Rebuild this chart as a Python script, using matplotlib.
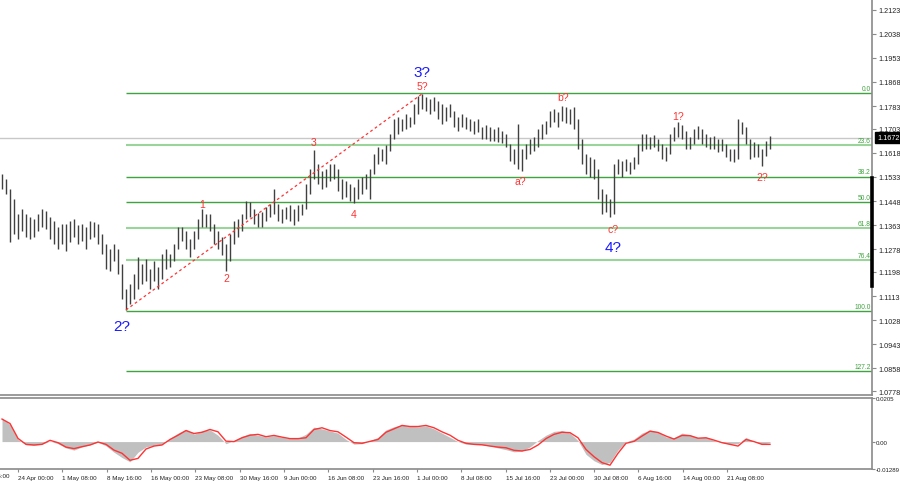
import numpy as np
import matplotlib
matplotlib.use("Agg")
import matplotlib.pyplot as plt
import matplotlib.transforms as mtransforms

plt.rcParams['font.family'] = ['Liberation Sans', 'DejaVu Sans']

# ---------------- data ----------------
highs = [
    1.1543, 1.1526, 1.1490, 1.1455, 1.1402, 1.1420, 1.1402, 1.1392, 1.1385, 1.1402,
    1.1420, 1.1413, 1.1392, 1.1378, 1.1357, 1.1367, 1.1367, 1.1378, 1.1385, 1.1364,
    1.1367, 1.1357, 1.1378, 1.1374, 1.1367, 1.1332, 1.1296, 1.1279, 1.1296, 1.1279,
    1.1226, 1.1138, 1.1155, 1.1191, 1.1251, 1.1226, 1.1244, 1.1208, 1.1237, 1.1215,
    1.1261, 1.1279, 1.1261, 1.1296, 1.1357, 1.1357, 1.1342, 1.1314, 1.1342, 1.1385,
    1.1420, 1.1402, 1.1402, 1.1367, 1.1342, 1.1321, 1.1296, 1.1332, 1.1378, 1.1385,
    1.1402, 1.1448, 1.1445, 1.1420, 1.1406, 1.1410, 1.1427, 1.1438, 1.1490, 1.1438,
    1.1420, 1.1427, 1.1434, 1.1420, 1.1434, 1.1438, 1.1508, 1.1561, 1.1628, 1.1579,
    1.1554, 1.1561, 1.1579, 1.1579, 1.1561, 1.1526, 1.1519, 1.1508, 1.1498, 1.1526,
    1.1533, 1.1543, 1.1561, 1.1614, 1.1639, 1.1632, 1.1646, 1.1685, 1.1737, 1.1745,
    1.1737, 1.1755, 1.1745, 1.1790, 1.1819, 1.1826, 1.1815, 1.1808, 1.1815, 1.1801,
    1.1790, 1.1780, 1.1790, 1.1766, 1.1745, 1.1755, 1.1745, 1.1737, 1.1730, 1.1737,
    1.1709, 1.1716, 1.1709, 1.1702, 1.1709, 1.1695, 1.1685, 1.1649, 1.1632, 1.1720,
    1.1632, 1.1649, 1.1667, 1.1674, 1.1702, 1.1720, 1.1730, 1.1766, 1.1773, 1.1762,
    1.1783, 1.1780, 1.1773, 1.1780, 1.1737, 1.1667, 1.1614, 1.1603, 1.1596, 1.1561,
    1.1490, 1.1473, 1.1455, 1.1579, 1.1596, 1.1589, 1.1596, 1.1586, 1.1603, 1.1649,
    1.1685, 1.1685, 1.1674, 1.1681, 1.1667, 1.1649, 1.1639, 1.1685, 1.1709, 1.1727,
    1.1716, 1.1695, 1.1674, 1.1702, 1.1713, 1.1702, 1.1685, 1.1674, 1.1677, 1.1667,
    1.1667, 1.1649, 1.1632, 1.1632, 1.1737, 1.1727, 1.1709, 1.1667, 1.1656, 1.1649,
    1.1632, 1.1660, 1.1677]

lows = [
    1.1490, 1.1473, 1.1304, 1.1332, 1.1314, 1.1342, 1.1321, 1.1314, 1.1321, 1.1342,
    1.1357, 1.1349, 1.1314, 1.1296, 1.1279, 1.1296, 1.1272, 1.1304, 1.1321, 1.1296,
    1.1307, 1.1279, 1.1314, 1.1321, 1.1296, 1.1261, 1.1208, 1.1201, 1.1237, 1.1191,
    1.1102, 1.1064, 1.1085, 1.1102, 1.1138, 1.1155, 1.1166, 1.1138, 1.1166, 1.1138,
    1.1173, 1.1208, 1.1215, 1.1237, 1.1279, 1.1307, 1.1279, 1.1251, 1.1279, 1.1314,
    1.1357, 1.1357, 1.1342, 1.1296, 1.1279, 1.1258, 1.1201, 1.1237, 1.1296, 1.1321,
    1.1342, 1.1385, 1.1392, 1.1367, 1.1357, 1.1357, 1.1378, 1.1392, 1.1402, 1.1378,
    1.1371, 1.1385, 1.1378, 1.1364, 1.1378, 1.1399, 1.1420, 1.1473, 1.1526, 1.1508,
    1.1490, 1.1498, 1.1519, 1.1526, 1.1483, 1.1455, 1.1462, 1.1448, 1.1441, 1.1455,
    1.1473, 1.1490, 1.1455, 1.1543, 1.1579, 1.1589, 1.1579, 1.1625, 1.1667, 1.1685,
    1.1695, 1.1702, 1.1709, 1.1720, 1.1755, 1.1773, 1.1766, 1.1755, 1.1766, 1.1737,
    1.1720, 1.1730, 1.1745, 1.1709, 1.1695, 1.1709, 1.1702, 1.1695, 1.1685, 1.1692,
    1.1667, 1.1667, 1.1660, 1.1660, 1.1656, 1.1653, 1.1639, 1.1589, 1.1579, 1.1561,
    1.1554, 1.1596, 1.1614, 1.1625, 1.1639, 1.1667, 1.1685, 1.1709, 1.1727, 1.1709,
    1.1730, 1.1723, 1.1720, 1.1702, 1.1632, 1.1579, 1.1543, 1.1533, 1.1526, 1.1455,
    1.1402, 1.1410, 1.1392, 1.1402, 1.1543, 1.1533, 1.1554, 1.1543, 1.1561, 1.1579,
    1.1625, 1.1632, 1.1632, 1.1639, 1.1625, 1.1596, 1.1589, 1.1614, 1.1660, 1.1674,
    1.1667, 1.1632, 1.1632, 1.1649, 1.1667, 1.1649, 1.1639, 1.1632, 1.1632, 1.1621,
    1.1625, 1.1603, 1.1589, 1.1586, 1.1596, 1.1685, 1.1649, 1.1596, 1.1603, 1.1603,
    1.1572, 1.1607, 1.1632]

# oscillator (one value every second bar)
osc_hist = [
    0.0110, 0.0080, 0.0010, -0.0015, -0.0018, -0.0012, 0.0002, -0.0010, -0.0030, -0.0040,
    -0.0025, -0.0015, -0.0003, -0.0020, -0.0050, -0.0075, -0.0095, -0.0050, -0.0025, -0.0018,
    -0.0012, 0.0015, 0.0040, 0.0058, 0.0035, 0.0050, 0.0055, 0.0030, -0.0010, 0.0005,
    0.0025, 0.0038, 0.0030, 0.0022, 0.0028, 0.0020, 0.0014, 0.0016, 0.0035, 0.0068,
    0.0060, 0.0050, 0.0040, 0.0010, -0.0012, -0.0010, 0.0005, 0.0020, 0.0055, 0.0070,
    0.0078, 0.0072, 0.0070, 0.0074, 0.0060, 0.0040, 0.0020, 0.0000, -0.0012, -0.0014,
    -0.0015, -0.0020, -0.0030, -0.0038, -0.0048, -0.0045, -0.0025, 0.0005, 0.0030, 0.0048,
    0.0052, 0.0040, 0.0005, -0.0060, -0.0090, -0.0108, -0.0098, -0.0040, -0.0002, 0.0012,
    0.0040, 0.0055, 0.0045, 0.0022, 0.0018, 0.0040, 0.0032, 0.0018, 0.0020, 0.0005,
    -0.0005, -0.0012, -0.0010, 0.0020, 0.0000, -0.0012, -0.0005]

osc_signal = [
    0.0106, 0.0085, 0.0015, -0.0013, -0.0016, -0.0013, 0.0006, -0.0005, -0.0026, -0.0033,
    -0.0024, -0.0016, -0.0002, -0.0013, -0.0040, -0.0055, -0.0088, -0.0079, -0.0035, -0.0021,
    -0.0016, 0.0010, 0.0030, 0.0052, 0.0038, 0.0044, 0.0057, 0.0046, 0.0002, 0.0000,
    0.0018, 0.0030, 0.0034, 0.0023, 0.0029, 0.0021, 0.0014, 0.0014, 0.0018, 0.0057,
    0.0065, 0.0052, 0.0046, 0.0021, -0.0005, -0.0008, 0.0001, 0.0010, 0.0044, 0.0060,
    0.0076, 0.0071, 0.0071, 0.0076, 0.0065, 0.0046, 0.0030, 0.0006, -0.0008, -0.0013,
    -0.0015, -0.0021, -0.0026, -0.0029, -0.0041, -0.0044, -0.0037, -0.0016, 0.0014, 0.0034,
    0.0044, 0.0042, 0.0018, -0.0037, -0.0071, -0.0099, -0.0111, -0.0055, -0.0008, 0.0001,
    0.0026, 0.0049, 0.0043, 0.0026, 0.0012, 0.0029, 0.0028, 0.0016, 0.0018, 0.0007,
    -0.0005, -0.0013, -0.0021, 0.0010, 0.0000, -0.0013, -0.0013]

current_price = 1.1672
fib_top = 1.1828
fib_bottom = 1.1059
fib_ratios = [0.0, 23.6, 38.2, 50.0, 61.8, 76.4, 100.0, 127.2]
fib_labels = ["0.0", "23.6", "38.2", "50.0", "61.8", "76.4", "100.0", "127.2"]

price_ticks = [1.2123, 1.2038, 1.1953, 1.1868, 1.1783, 1.1703, 1.1618, 1.1533, 1.1448,
               1.1363, 1.1278, 1.1198, 1.1113, 1.1028, 1.0943, 1.0858, 1.0778]
osc_ticks = [0.0205, 0.00, -0.01289]
osc_tick_labels = ["0.0205", "0.00", "-0.01289"]

date_labels = ["16 Apr 16:00", "24 Apr 00:00", "1 May 08:00", "8 May 16:00", "16 May 00:00",
               "23 May 08:00", "30 May 16:00", "9 Jun 00:00", "16 Jun 08:00", "23 Jun 16:00",
               "1 Jul 00:00", "8 Jul 08:00", "15 Jul 16:00", "23 Jul 00:00", "30 Jul 08:00",
               "6 Aug 16:00", "14 Aug 00:00", "21 Aug 08:00"]

# wave labels: text, bar index, anchor, colour, size, offset (pt)
wave_labels = [
    ("1", 50, "high", "red", 7.5, (0, 3.6)),
    ("2", 56, "low", "red", 7.5, (0, -5.0)),
    ("3", 78, "high", "red", 7.5, (0, 5.8)),
    ("4", 88, "low", "red", 7.5, (0, -7.9)),
    ("5?", 105, "high", "red", 7.5, (0, 5.8)),
    ("3?", 105, "high", "blue", 11, (0, 15.8)),
    ("2?", 31, "low", "blue", 11, (-2.9, -11.5)),
    ("a?", 130, "low", "red", 7.5, (-1.4, -7.2)),
    ("b?", 140, "high", "red", 7.5, (0.5, 6.5)),
    ("c?", 152, "low", "red", 7.5, (2.0, -8.6)),
    ("4?", 152, "low", "blue", 11, (2.0, -21.6)),
    ("1?", 169, "high", "red", 7.5, (0, 4.3)),
    ("2?", 190, "low", "red", 7.5, (0, -7.9)),
]

RED = "#ff3333"
BLUE = "#1a1aff"
GREEN_D = "#3fa33f"
GREEN_L = "#9ad49a"
AX_COL = "#8a8a8a"

# ---------------- figure ----------------
W, H = 900, 485
fig = plt.figure(figsize=(W / 100, H / 100), dpi=100)
fig.patch.set_facecolor("white")
ax = fig.add_axes([0, 89 / H, 872 / W, 396 / H])
ax2 = fig.add_axes([0, 15 / H, 872 / W, 71 / H])

n = len(highs)
xb = np.arange(n)
xlim = (-0.5, 217.5)

# price bars
ax.vlines(xb, lows, highs, color="#404040", lw=1.0, zorder=3)

# current price line
ax.axhline(current_price, color="#c8c8c8", lw=1.0, zorder=1)

# fib levels
rng = fib_top - fib_bottom
light = {"23.6", "61.8", "76.4"}
for r, lab in zip(fib_ratios, fib_labels):
    lvl = fib_top - r / 100.0 * rng
    col = GREEN_L if lab in light else GREEN_D
    lw = 1.5 if lab in light else 1.0
    ax.plot([31, xlim[1]], [lvl, lvl], color=col, lw=lw, zorder=2, solid_capstyle="butt")
    ax.text(xlim[1] - 0.3, lvl + 0.0004, lab, color=GREEN_D, fontsize=4.8,
            ha="right", va="bottom", zorder=4)

# trend line from wave 2? low to 5? high
ax.plot([31, 105], [lows[31], highs[105]], color=RED, lw=0.9,
        ls=(0, (2.2, 2.2)), zorder=4)

# wave labels
for txt, b, anchor, col, size, off in wave_labels:
    y = highs[b] if anchor == "high" else lows[b]
    ax.annotate(txt, (b, y), xytext=off, textcoords="offset points",
                ha="center", va="center", color=RED if col == "red" else BLUE,
                fontsize=size, zorder=5)
# clipped label at the left edge
ax.text(-2.6, 1.1625, "2?", color=BLUE, fontsize=11, ha="center", va="center",
        zorder=5, clip_on=True)

ax.set_xlim(*xlim)
ax.set_ylim(1.07639, 1.21607)
ax.yaxis.tick_right()
ax.set_yticks(price_ticks)
ax.set_yticklabels([f"{v:.4f}" for v in price_ticks])
ax.tick_params(axis="y", direction="out", length=3, width=0.8, colors=AX_COL,
               labelcolor="#222222", labelsize=5.2, pad=1.5)
ax.set_xticks([])
for s in ["left", "top"]:
    ax.spines[s].set_visible(False)
for s in ["right", "bottom"]:
    ax.spines[s].set_color(AX_COL)
    ax.spines[s].set_linewidth(1.2)
# dark scroll segment on price scale
ax.axvline(xlim[1], ymin=0.275, ymax=0.548, color="black", lw=2.6, zorder=6, clip_on=False)

# current price tag
trans = mtransforms.blended_transform_factory(ax.transAxes, ax.transData)
ax.text(1.006, current_price, f"{current_price:.4f}", transform=trans, color="white",
        fontsize=5.2, ha="left", va="center", zorder=7,
        bbox=dict(boxstyle="square,pad=0.25", fc="black", ec="black"))

# ---------------- oscillator ----------------
xo = np.arange(len(osc_hist)) * 2
ax2.fill_between(xo, 0, osc_hist, color="#c0c0c0", lw=0, zorder=2)
ax2.plot(xo, osc_signal, color=RED, lw=1.0, zorder=3)
ax2.set_xlim(*xlim)
ax2.set_ylim(-0.01289, 0.0205)
ax2.yaxis.tick_right()
ax2.set_yticks(osc_ticks)
ax2.set_yticklabels(osc_tick_labels)
ax2.tick_params(axis="y", direction="out", length=2, width=0.8, colors=AX_COL,
                labelcolor="#222222", labelsize=4.4, pad=0.6)

date_pos = [-7.08 + 11.08 * k for k in range(len(date_labels))]
vis = [(p, l) for p, l in zip(date_pos, date_labels) if p >= xlim[0]]
ax2.set_xticks([p for p, _ in vis])
ax2.set_xticklabels([l for _, l in vis])
for t in ax2.get_xticklabels():
    t.set_ha("left")
ax2.tick_params(axis="x", direction="out", length=2, width=0.8, colors=AX_COL,
                labelcolor="#222222", labelsize=4.5, pad=2)
# first date label partly outside the picture (same baseline as the others)
for p, l in zip(date_pos, date_labels):
    if p < xlim[0]:
        ax2.annotate(l, (p, 0), xycoords=("data", "axes fraction"),
                     xytext=(0, -2.9), textcoords="offset points",
                     ha="left", va="top", fontsize=4.5, color="#222222",
                     annotation_clip=False)

ax2.spines["left"].set_visible(False)
for s in ["right", "bottom", "top"]:
    ax2.spines[s].set_color(AX_COL)
    ax2.spines[s].set_linewidth(1.2)

fig.savefig("out.png", dpi=100, facecolor="white")
